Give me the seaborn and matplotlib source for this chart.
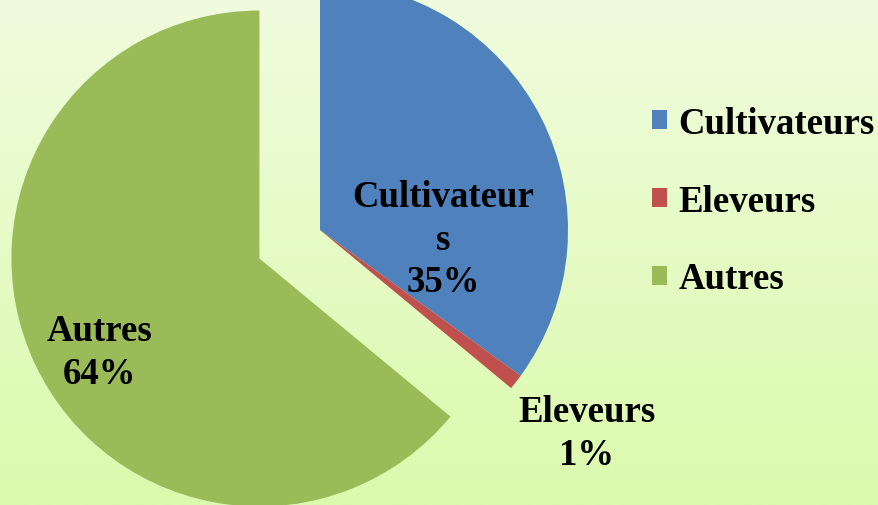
import numpy as np
import matplotlib
matplotlib.use("Agg")
import matplotlib.pyplot as plt
import seaborn as sns
from matplotlib.patches import Patch

categories = ["Cultivateurs", "Eleveurs", "Autres"]
values = [35, 1, 64]
slice_labels = ["Cultivateur\ns\n35%", "Eleveurs\n1%", "Autres\n64%"]
colors = ["#4F81BD", "#C0504D", "#9BBB59"]
explode_frac = [0, 0, 0.27]

sns.set_theme(style="white")
plt.rcParams["font.family"] = ["Liberation Serif", "DejaVu Serif"]
plt.rcParams["text.color"] = "black"

W, H = 879, 506
R = 248
fig = plt.figure(figsize=(W / 100, H / 100), dpi=100)

# background gradient (light at top, greener at bottom)
bg = fig.add_axes([0, 0, 1, 1])
top = np.array([240, 252, 222]) / 255
bot = np.array([219, 250, 172]) / 255
t = np.linspace(0, 1, 256)[:, None, None]
grad = top * (1 - t) + bot * t
bg.imshow(grad, aspect="auto", extent=[0, 1, 0, 1])
bg.axis("off")

ax = fig.add_axes([0, 0, 1, 1])
ax.patch.set_alpha(0)
# matplotlib's explode is in data units, so scale by the radius
ax.pie(values, colors=colors, explode=[e * R for e in explode_frac], startangle=90,
       counterclock=False, center=(320, H - 231), radius=R, wedgeprops=dict(linewidth=0))
ax.set_xlim(0, W)
ax.set_ylim(0, H)
ax.set_aspect("equal", adjustable="box")
ax.axis("off")

fs = 26.5
label_pos = [(443, H - 240), (587, H - 434), (100, H - 353)]
for txt, (x, y) in zip(slice_labels, label_pos):
    ax.text(x, y, txt, ha="center", va="center", fontsize=fs, fontweight="bold",
            linespacing=1.26, color="black")

handles = [Patch(facecolor=c, edgecolor="none") for c in colors]
leg = fig.legend(handles, categories, loc="upper left", bbox_to_anchor=(652 / W, 1 - 107 / H),
                 frameon=False, prop=dict(size=fs, weight="bold"),
                 handlelength=0.42, handleheight=0.42, handletextpad=0.3,
                 labelspacing=1.16, borderaxespad=0, borderpad=0)
for tx in leg.get_texts():
    tx.set_color("black")

fig.savefig("out.png", dpi=100)
